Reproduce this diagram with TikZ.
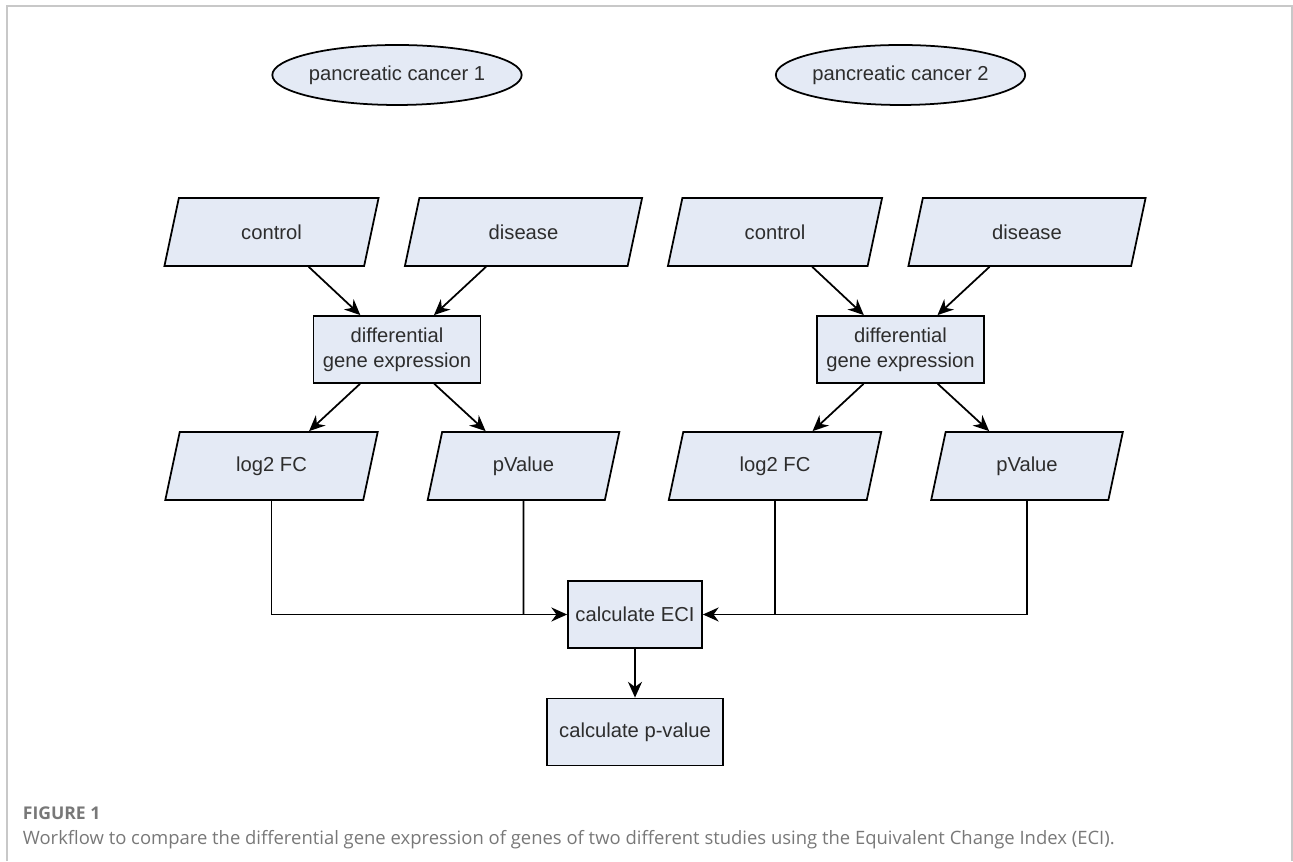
\documentclass[tikz,border=0pt]{standalone}
\usepackage{fontspec}
\setmainfont{Liberation Sans}
\newfontfamily\capfont{Open Sans}
\usetikzlibrary{shapes.geometric,arrows.meta}

\definecolor{boxfill}{RGB}{228,234,245}
\definecolor{boxtext}{RGB}{45,45,45}
\definecolor{framegray}{RGB}{200,200,200}
\definecolor{capgray}{RGB}{120,120,120}

\tikzset{
	src/.style = {ellipse, draw, fill=boxfill, text=boxtext, minimum width=4.24cm, minimum height=1.2cm, inner sep=0pt},
	io/.style = {trapezium, trapezium left angle=78, trapezium right angle=102, draw, fill=boxfill, text=boxtext, minimum width=2.65cm, minimum height=1.36cm},
	proc/.style = {rectangle, draw, fill=boxfill, text=boxtext, align=center, minimum height=1.34cm},
	flow/.style = {-{Stealth[length=9pt,width=8pt]}}
}

\begin{document}
\begin{tikzpicture}[x=0.02cm, y=0.02cm, line width=1pt, font=\fontsize{11.5}{14}\selectfont]

	\useasboundingbox (0,0) rectangle (1293,861);

	% frame
	\draw [framegray, line width=1.1pt] (7,0) -- (7,855) -- (1292,855) -- (1292,0);

	% the two studies
	\foreach \g/\dx in {1/0, 2/503.5} {
		\node [src] (pc\g) at (397+\dx, 786) {pancreatic cancer \g};

		\node [io] (ctl\g) at (271.5+\dx, 629) {control};
		\node [io] (dis\g) at (523.5+\dx, 629) {disease};
		\node [proc, minimum width=3.34cm] (dge\g) at (397+\dx, 511.5) {differential\\gene expression};
		\node [io] (lfc\g) at (271.5+\dx, 395) {log2 FC};
		\node [io] (pv\g) at (523.5+\dx, 395) {pValue};

		\draw [flow] (ctl\g) -- (dge\g);
		\draw [flow] (dis\g) -- (dge\g);
		\draw [flow] (dge\g) -- (lfc\g);
		\draw [flow] (dge\g) -- (pv\g);
	}

	\node [proc, minimum width=2.68cm] (eci) at (635, 246.5) {calculate ECI};
	\node [proc, minimum width=3.52cm] (pval) at (635, 129) {calculate p-value};

	\draw [flow] (lfc1) |- (eci);
	\draw (pv1) -- (pv1 |- eci);
	\draw [flow] (pv2) |- (eci);
	\draw (lfc2) -- (lfc2 |- eci);
	\draw [flow] (eci) -- (pval);

	% caption
	\node [anchor=base west, inner sep=0pt, text=capgray, font=\capfont\bfseries\fontsize{10}{12}\selectfont] (fig) at (22, 41) {FIGURE 1};
	\node [anchor=base west, inner sep=0pt, text=capgray, font=\capfont\fontsize{10.5}{12}\selectfont] (cap) at (22, 16) {Workflow to compare the differential gene expression of genes of two different studies using the Equivalent Change Index (ECI).};

\end{tikzpicture}
\end{document}
